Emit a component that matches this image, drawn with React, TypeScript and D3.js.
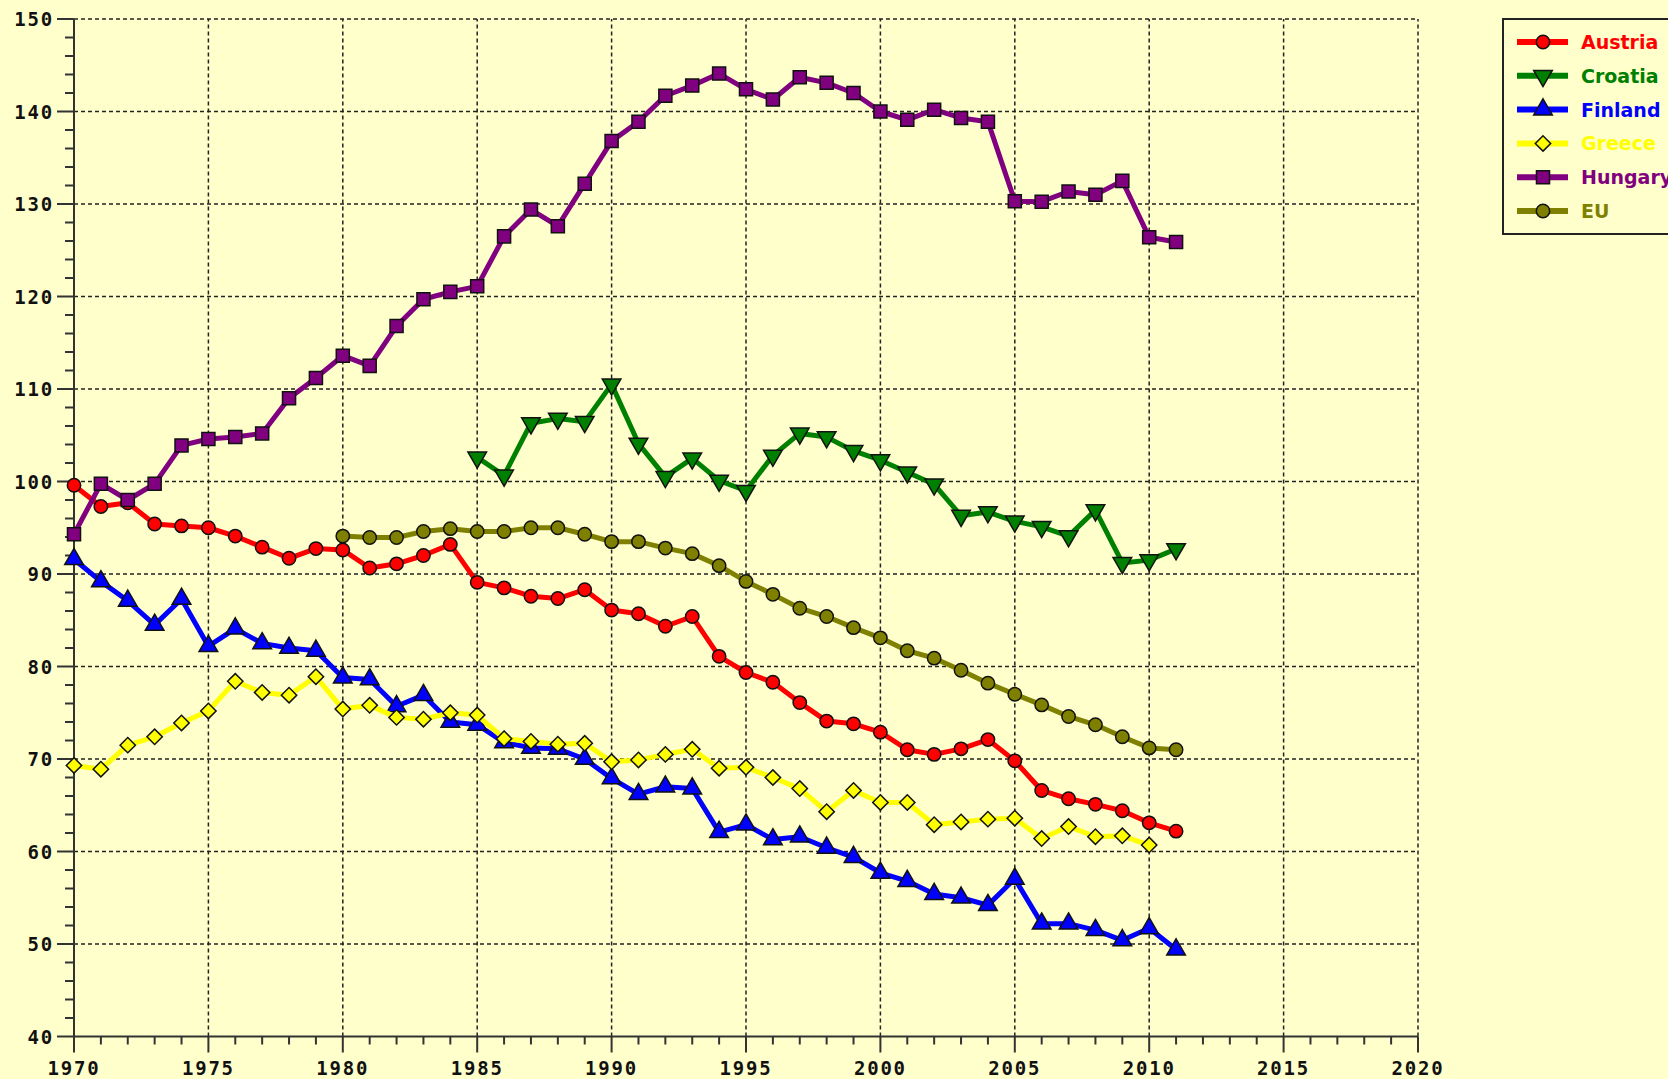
import React from 'react';
import * as d3 from 'd3';

const austria = [99.6, 97.3, 97.7, 95.4, 95.2, 95.0, 94.1, 92.9, 91.7, 92.75, 92.6, 90.65, 91.1, 92.0, 93.2,
  89.1, 88.5, 87.6, 87.35, 88.3, 86.1, 85.7, 84.35, 85.4, 81.1, 79.35, 78.3, 76.1, 74.1, 73.8, 72.9,
  71.0, 70.5, 71.1, 72.1, 69.8, 66.6, 65.7, 65.1, 64.4, 63.1, 62.2];
const croatia = [102.6, 100.65, 106.3, 106.8, 106.45, 110.5, 104.1, 100.5, 102.5, 100.1, 99.0, 102.8, 105.2, 104.8, 103.3, 102.3,
  101.0, 99.7, 96.3, 96.7, 95.7, 95.1, 94.1, 96.9, 91.2, 91.5, 92.7];
const finland = [91.6, 89.2, 87.1, 84.5, 87.3, 82.2, 84.1, 82.5, 82.0, 81.7, 78.8, 78.6, 75.7, 76.9, 74.0,
  73.7, 71.8, 71.2, 71.1, 70.0, 67.9, 66.2, 67.0, 66.8, 62.1, 62.9, 61.3, 61.6, 60.4, 59.4, 57.7,
  56.8, 55.4, 55.0, 54.2, 57.05, 52.2, 52.2, 51.5, 50.4, 51.7, 49.4];
const greece = [69.3, 68.9, 71.5, 72.4, 73.9, 75.2, 78.4, 77.2, 76.9, 78.9, 75.4, 75.8, 74.5, 74.3, 75.0,
  74.75, 72.2, 71.9, 71.6, 71.7, 69.7, 69.9, 70.5, 71.05, 69.0, 69.1, 68.0, 66.8, 64.3, 66.6, 65.3,
  65.3, 62.9, 63.2, 63.5, 63.6, 61.4, 62.7, 61.6, 61.7, 60.7];
const hungary = [94.3, 99.75, 98.0, 99.75, 103.9, 104.6, 104.8, 105.2, 109.0, 111.2, 113.6, 112.5, 116.8, 119.7, 120.5,
  121.1, 126.5, 129.4, 127.6, 132.2, 136.8, 138.9, 141.7, 142.8, 144.1, 142.4, 141.3, 143.7, 143.1, 142.0, 140.0,
  139.1, 140.2, 139.3, 138.9, 130.3, 130.25, 131.35, 131.0, 132.5, 126.4, 125.9];
const eu = [94.1, 93.95, 93.95, 94.6, 94.9,
  94.6, 94.6, 95.0, 95.0, 94.3, 93.5, 93.5, 92.8, 92.2, 90.9, 89.2, 87.8, 86.3, 85.4, 84.2, 83.1,
  81.7, 80.9, 79.6, 78.2, 77.0, 75.85, 74.6, 73.7, 72.4, 71.2, 71.0];

const xTicks = [1970, 1975, 1980, 1985, 1990, 1995, 2000, 2005, 2010, 2015, 2020];
const yTicks = [40, 50, 60, 70, 80, 90, 100, 110, 120, 130, 140, 150];

const series = [
  { name: 'Austria', start: 1970, values: austria, color: '#ff0000', shape: 'circle' },
  { name: 'Croatia', start: 1985, values: croatia, color: '#008000', shape: 'down' },
  { name: 'Finland', start: 1970, values: finland, color: '#0000ff', shape: 'up' },
  { name: 'Greece', start: 1970, values: greece, color: '#ffff00', shape: 'diamond' },
  { name: 'Hungary', start: 1970, values: hungary, color: '#800080', shape: 'square' },
  { name: 'EU', start: 1980, values: eu, color: '#808000', shape: 'circle' },
];

const W = 1668, H = 1079;
const x = d3.scaleLinear().domain([1970, 2020]).range([74, 1418]);
const y = d3.scaleLinear().domain([40, 150]).range([1036.5, 19]);

const symPath: Record<string, string> = {
  circle: d3.symbol(d3.symbolCircle, 140)() as string,
  square: d3.symbol(d3.symbolSquare, 170)() as string,
  up: d3.symbol(d3.symbolTriangle, 150)() as string,
  down: d3.symbol(d3.symbolTriangle, 150)() as string,
  diamond: d3.symbol(d3.symbolSquare, 118)() as string,
};
const symRot: Record<string, number> = { circle: 0, square: 0, up: 0, down: 180, diamond: 45 };

function Marker({ shape, color, cx, cy }: { shape: string; color: string; cx: number; cy: number }) {
  return (
    <path d={symPath[shape]} transform={`translate(${cx},${cy}) rotate(${symRot[shape]})`}
      fill={color} stroke="#111" strokeWidth={1.5} />
  );
}

export default function App() {
  const line = d3.line<[number, number]>().x(d => x(d[0])).y(d => y(d[1]));
  const axisFont = { fontFamily: '"DejaVu Sans Mono", monospace', fontWeight: 700, fontSize: 19, letterSpacing: 1.8 };
  const minorX = d3.range(1970, 2021, 1);
  const minorY = d3.range(40, 151, 2);

  return (
    <svg width={W} height={H} style={{ position: 'absolute', left: 0, top: 0, background: '#ffffcc' }}>
      <rect x={0} y={0} width={W} height={H} fill="#ffffcc" />
      {/* grid */}
      <g stroke="#222" strokeWidth={1.5} strokeDasharray="4,3">
        {xTicks.slice(1).map(t => <line key={'gx' + t} x1={x(t)} x2={x(t)} y1={y(40)} y2={y(150)} />)}
        {yTicks.slice(1).map(t => <line key={'gy' + t} x1={x(1970)} x2={x(2020)} y1={y(t)} y2={y(t)} />)}
      </g>
      {/* axes */}
      <g stroke="#333" strokeWidth={2}>
        <line x1={x(1970)} x2={x(1970)} y1={y(150)} y2={y(40)} />
        <line x1={x(1970)} x2={x(2020)} y1={y(40)} y2={y(40)} />
        {minorX.map(t => <line key={'tx' + t} x1={x(t)} x2={x(t)} y1={y(40)} y2={y(40) + (t % 5 === 0 ? 16 : 8)} />)}
        {minorY.map(t => <line key={'ty' + t} x1={x(1970)} x2={x(1970) - (t % 10 === 0 ? 17 : 9)} y1={y(t)} y2={y(t)} />)}
      </g>
      <g style={axisFont} fill="#111">
        {xTicks.map(t => <text key={'lx' + t} x={x(t)} y={y(40) + 38} textAnchor="middle">{t}</text>)}
        {yTicks.map(t => <text key={'ly' + t} x={x(1970) - 20} y={y(t) + 7} textAnchor="end">{t}</text>)}
      </g>
      {/* series */}
      {series.map(s => {
        const pts = s.values.map((v, i) => [s.start + i, v] as [number, number]);
        return (
          <g key={s.name}>
            <path d={line(pts) as string} fill="none" stroke={s.color} strokeWidth={5} strokeLinejoin="round" />
            {pts.map(p => <Marker key={p[0]} shape={s.shape} color={s.color} cx={x(p[0])} cy={y(p[1])} />)}
          </g>
        );
      })}
      {/* legend */}
      <rect x={1503} y={19} width={180} height={215} fill="#ffffcc" stroke="#222" strokeWidth={2} />
      {series.map((s, i) => {
        const cy = 42 + i * 33.8;
        return (
          <g key={'lg' + s.name}>
            <line x1={1517} x2={1568} y1={cy} y2={cy} stroke={s.color} strokeWidth={6} />
            <Marker shape={s.shape} color={s.color} cx={1543} cy={cy} />
            <text x={1581} y={cy + 7} fill={s.color} style={{ fontFamily: '"DejaVu Sans", sans-serif', fontWeight: 700, fontSize: 19 }}>{s.name}</text>
          </g>
        );
      })}
    </svg>
  );
}
